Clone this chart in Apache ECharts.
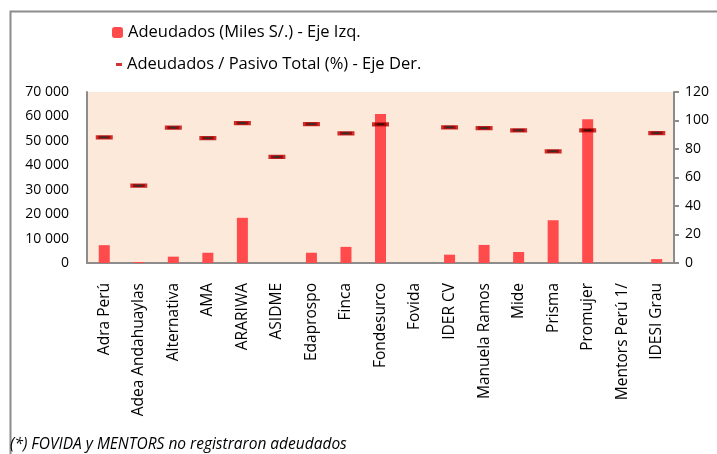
<!DOCTYPE html>
<html>
<head>
<meta charset="utf-8">
<script src="https://cdn.jsdelivr.net/npm/echarts@6/dist/echarts.min.js"></script>
<style>
  html, body { margin: 0; padding: 0; background: #fff; }
  #main { width: 717px; height: 454px; }
</style>
</head>
<body>
<div id="main"></div>
<script>
// categorias (IMF)
var categorias = ['Adra Perú', 'Adea Andahuaylas', 'Alternativa', 'AMA', 'ARARIWA', 'ASIDME',
  'Edaprospo', 'Finca', 'Fondesurco', 'Fovida', 'IDER CV', 'Manuela Ramos', 'Mide',
  'Prisma', 'Promujer', 'Mentors Perú 1/', 'IDESI Grau'];
// adeudados en miles de soles - eje izq
var adeudados = [7300, 400, 2600, 4200, 18500, 0, 4200, 6600, 61000, 0, 3400, 7400, 4500, 17500, 58800, 0, 1600];
// adeudados / pasivo total (%) - eje der
var ratioPasivo = [88.2, 54.3, 95, 87.7, 98.2, 74.4, 97.5, 91, 97.3, null, 95.2, 94.7, 93.1, 78.4, 93.1, null, 91.2];

var nombreBarras = 'Adeudados (Miles S/.) - Eje Izq.';
var nombreRatio = 'Adeudados / Pasivo Total (%) - Eje Der.';
var fuente = 'Open Sans';

var chart = echarts.init(document.getElementById('main'), null, { renderer: 'canvas' });

var option = {
  backgroundColor: '#fff',
  animation: false,
  textStyle: { fontFamily: fuente },
  graphic: [
    { // marco del grafico
      type: 'rect', left: 8, top: 9, shape: { width: 740, height: 470 },
      style: { fill: 'none', stroke: '#8c8c8c', lineWidth: 2 }, silent: true
    },
    {
      type: 'text', left: 10, top: 437,
      style: { text: '(*) FOVIDA y MENTORS no registraron adeudados', font: 'italic 15.5px ' + fuente, fill: '#000' }
    }
  ],
  legend: [
    {
      left: 107, top: 19, itemWidth: 11, itemHeight: 11,
      data: [nombreBarras],
      textStyle: { fontSize: 16.5, color: '#000', fontFamily: fuente },
      itemStyle: { color: '#ff4b4b' }
    },
    {
      left: 111, top: 51, itemWidth: 6, itemHeight: 3,
      data: [{ name: nombreRatio, icon: 'rect' }],
      textStyle: { fontSize: 16.5, color: '#000', fontFamily: fuente },
      itemStyle: { color: '#c00000', borderWidth: 0 }
    }
  ],
  grid: { left: 87, right: 43, top: 92, bottom: 191, backgroundColor: '#fce9da', show: true, borderWidth: 0 },
  xAxis: {
    type: 'category',
    data: categorias,
    axisLine: { lineStyle: { color: '#8c8c8c', width: 2 } },
    axisTick: { show: false },
    axisLabel: { rotate: 90, interval: 0, fontSize: 15.5, color: '#000', margin: 20, fontFamily: fuente }
  },
  yAxis: [
    {
      type: 'value', min: 0, max: 70000, interval: 10000,
      splitLine: { show: false },
      axisLine: { show: true, lineStyle: { color: '#8c8c8c', width: 2 } },
      axisTick: { show: false },
      axisLabel: {
        fontSize: 14, color: '#000', margin: 18, fontFamily: fuente,
        formatter: function (v) { return v === 0 ? '0' : String(v).replace(/\B(?=(\d{3})+(?!\d))/g, ' '); }
      }
    },
    {
      type: 'value', min: 0, max: 120, interval: 20, position: 'right',
      splitLine: { show: false },
      axisLine: { show: true, lineStyle: { color: '#8c8c8c', width: 2 } },
      axisTick: { show: true, length: 5, lineStyle: { color: '#8c8c8c', width: 2 } },
      axisLabel: { fontSize: 14, color: '#000', margin: 11, fontFamily: fuente }
    }
  ],
  series: [
    {
      name: nombreBarras,
      type: 'bar',
      yAxisIndex: 0,
      data: adeudados,
      barWidth: 11,
      itemStyle: { color: '#ff4b4b' }
    },
    {
      name: nombreRatio,
      type: 'scatter',
      yAxisIndex: 1,
      data: ratioPasivo,
      symbol: 'rect',
      symbolSize: [12, 3],
      itemStyle: { color: '#000', borderColor: '#c00000', borderWidth: 2.5 },
      z: 5
    }
  ]
};

chart.setOption(option);
</script>
</body>
</html>
